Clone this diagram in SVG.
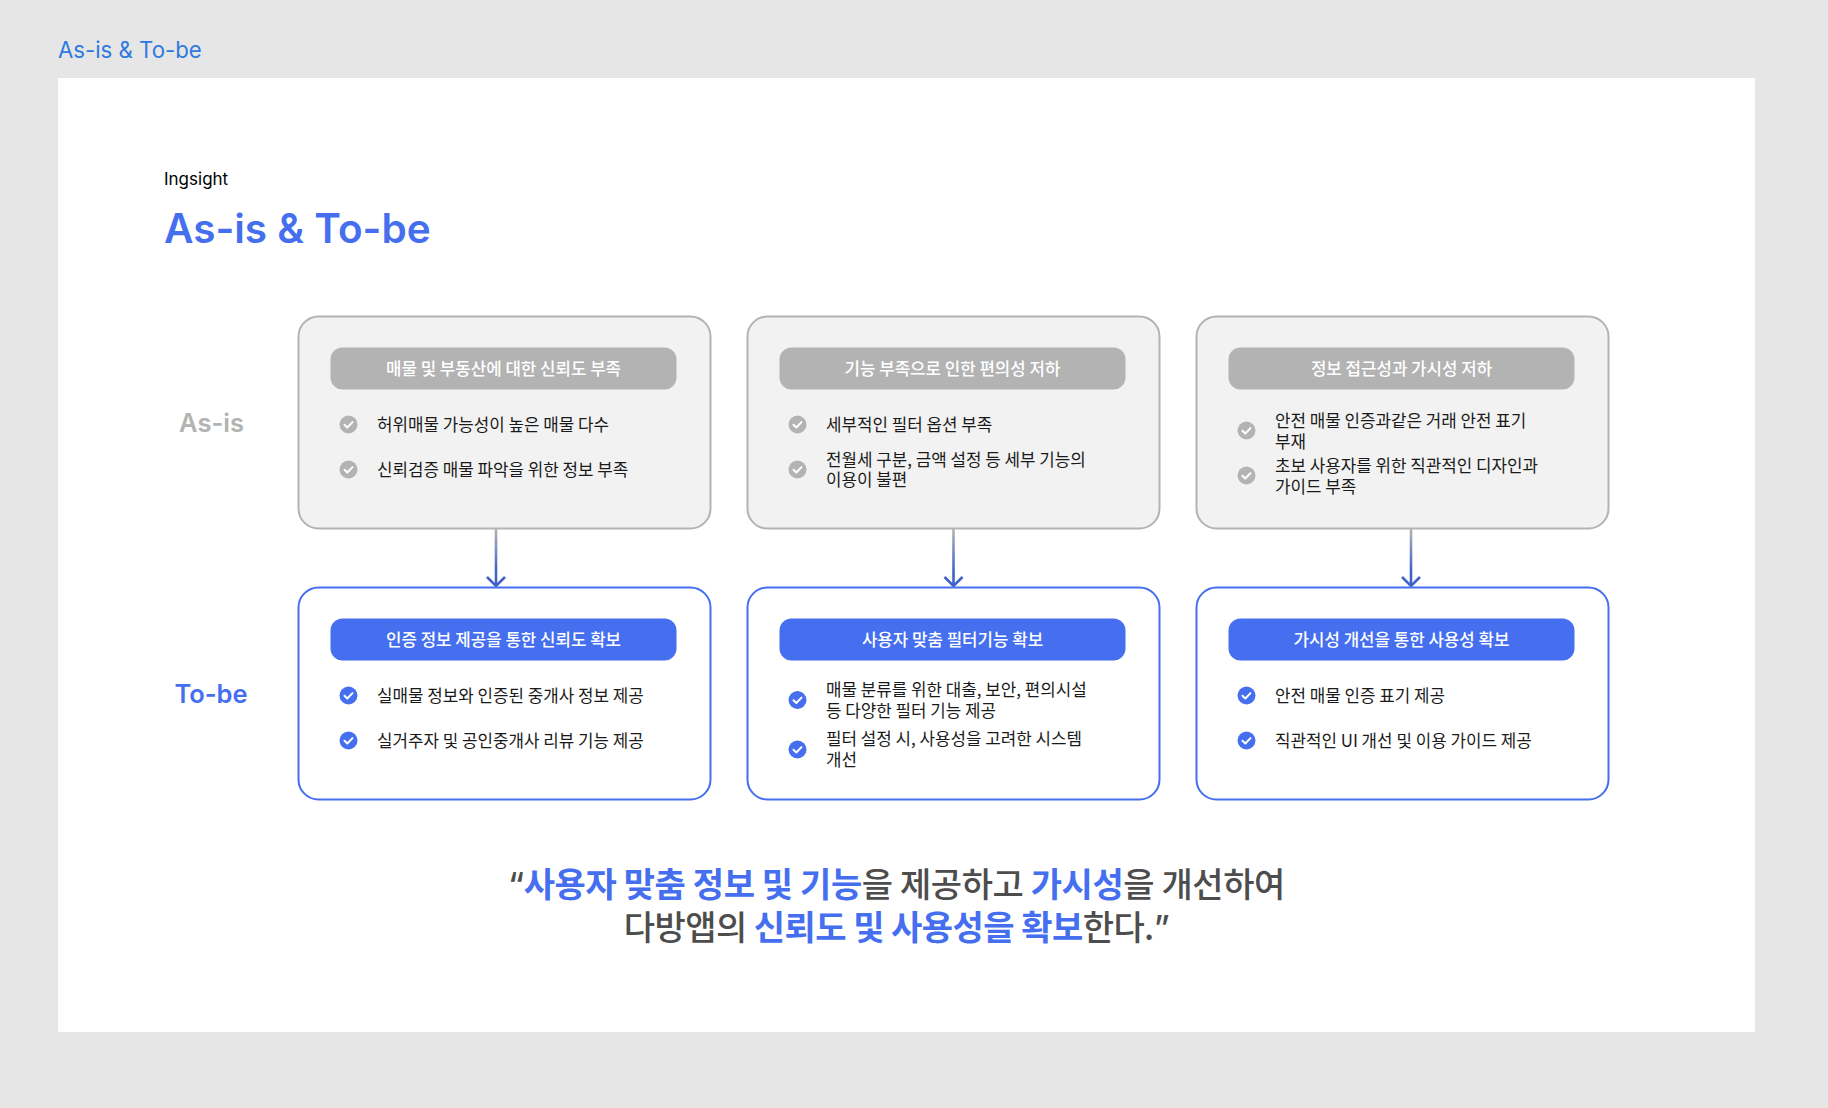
<svg xmlns="http://www.w3.org/2000/svg" xmlns:xlink="http://www.w3.org/1999/xlink" width="1828" height="1108" viewBox="0 0 1828 1108">
<style>
text{font-family:"Noto Sans CJK KR","Noto Sans",sans-serif}
.lat{font-family:Inter,"Noto Sans CJK KR",sans-serif}
.asbox{fill:#f2f2f2;stroke:#b3b3b3;stroke-width:2}
.tobox{fill:#fff;stroke:#456fef;stroke-width:2}
.aspill{fill:#b3b3b3}
.topill{fill:#456fef}
.pt{fill:#fff;font-size:16.8px;font-weight:500;text-anchor:middle}
.it{fill:#1a1a1a;font-size:16.85px;font-weight:400}
.q{font-size:34px;font-weight:500;fill:#4d4d4d;text-anchor:middle;letter-spacing:-.4px}
.q2{letter-spacing:-.55px}
.q .b{fill:#456fef;font-weight:700}
.q .m{font-family:Inter,sans-serif}
.ck{fill:none;stroke:#fff;stroke-width:2;stroke-linecap:round;stroke-linejoin:round}
.cn{fill:none;stroke-width:2.6}
.hd{fill:none;stroke:#3f62c9;stroke-width:2.6}
</style>
<defs>
<linearGradient id="g" gradientUnits="userSpaceOnUse" x1="0" y1="529" x2="0" y2="586"><stop offset="0" stop-color="#b3b3b3"/><stop offset=".75" stop-color="#3f62c9"/></linearGradient>
<g id="ca"><circle r="9" fill="#b3b3b3"/><path class="ck" d="M-4 .3L-1.2 3L4 -2.4"/></g>
<g id="ct"><circle r="9" fill="#456fef"/><path class="ck" d="M-4 .3L-1.2 3L4 -2.4"/></g>
</defs>
<rect width="1828" height="1108" fill="#e6e6e6"/>
<rect x="58" y="78" width="1697" height="954" fill="#fff"/>
<text class="lat" x="58" y="58" font-size="22.200" fill="#2f7ae0">As-is &amp; To-be</text>
<text class="lat" x="164" y="185" font-size="17" fill="#000">Ingsight</text>
<text class="lat" x="164" y="243" font-size="40.500" font-weight="600" fill="#456fef">As-is &amp; To-be</text>
<text class="lat" x="211.500" y="432" font-size="25.500" font-weight="600" fill="#b3b3b3" text-anchor="middle">As-is</text>
<text class="lat" x="211" y="703" font-size="25.500" font-weight="600" fill="#456fef" text-anchor="middle">To-be</text>

<g id="connectors">
<path class="cn" stroke="url(#g)" d="M496 529V586"/><path class="hd" d="M487 577L496 586L505 577"/>
<path class="cn" stroke="url(#g)" d="M953.500 529V586"/><path class="hd" d="M944.500 577L953.500 586L962.500 577"/>
<path class="cn" stroke="url(#g)" d="M1411 529V586"/><path class="hd" d="M1402 577L1411 586L1420 577"/>
</g>

<g id="asis-1">
<rect class="asbox" x="298.500" y="316.500" width="412" height="212" rx="20"/>
<rect class="aspill" x="330.500" y="347.500" width="346" height="42" rx="12"/>
<text class="pt" x="503.500" y="374.500">매물 및 부동산에 대한 신뢰도 부족</text>
<use href="#ca" x="348.500" y="424.500"/><text class="it" x="377" y="430.500">허위매물 가능성이 높은 매물 다수</text>
<use href="#ca" x="348.500" y="469.500"/><text class="it" x="377" y="475.500">신뢰검증 매물 파악을 위한 정보 부족</text>
</g>
<g id="asis-2">
<rect class="asbox" x="747.500" y="316.500" width="412" height="212" rx="20"/>
<rect class="aspill" x="779.500" y="347.500" width="346" height="42" rx="12"/>
<text class="pt" x="952.500" y="374.500">기능 부족으로 인한 편의성 저하</text>
<use href="#ca" x="797.500" y="424.500"/><text class="it" x="826" y="430.500">세부적인 필터 옵션 부족</text>
<use href="#ca" x="797.500" y="469.500"/><text class="it" x="826" y="465.500">전월세 구분, 금액 설정 등 세부 기능의</text><text class="it" x="826" y="485.500">이용이 불편</text>
</g>
<g id="asis-3">
<rect class="asbox" x="1196.500" y="316.500" width="412" height="212" rx="20"/>
<rect class="aspill" x="1228.500" y="347.500" width="346" height="42" rx="12"/>
<text class="pt" x="1401.500" y="374.500">정보 접근성과 가시성 저하</text>
<use href="#ca" x="1246.500" y="430.500"/><text class="it" x="1275" y="426.500">안전 매물 인증과같은 거래 안전 표기</text><text class="it" x="1275" y="447.500">부재</text>
<use href="#ca" x="1246.500" y="475.500"/><text class="it" x="1275" y="471.500">초보 사용자를 위한 직관적인 디자인과</text><text class="it" x="1275" y="492.500">가이드 부족</text>
</g>
<g id="tobe-1">
<rect class="tobox" x="298.500" y="587.500" width="412" height="212" rx="20"/>
<rect class="topill" x="330.500" y="618.500" width="346" height="42" rx="12"/>
<text class="pt" x="503.500" y="645.500">인증 정보 제공을 통한 신뢰도 확보</text>
<use href="#ct" x="348.500" y="695.500"/><text class="it" x="377" y="701.500">실매물 정보와 인증된 중개사 정보 제공</text>
<use href="#ct" x="348.500" y="740.500"/><text class="it" x="377" y="746.500">실거주자 및 공인중개사 리뷰 기능 제공</text>
</g>
<g id="tobe-2">
<rect class="tobox" x="747.500" y="587.500" width="412" height="212" rx="20"/>
<rect class="topill" x="779.500" y="618.500" width="346" height="42" rx="12"/>
<text class="pt" x="952.500" y="645.500">사용자 맞춤 필터기능 확보</text>
<use href="#ct" x="797.500" y="700"/><text class="it" x="826" y="695.500">매물 분류를 위한 대출, 보안, 편의시설</text><text class="it" x="826" y="716.500">등 다양한 필터 기능 제공</text>
<use href="#ct" x="797.500" y="749.500"/><text class="it" x="826" y="744.500">필터 설정 시, 사용성을 고려한 시스템</text><text class="it" x="826" y="765.500">개선</text>
</g>
<g id="tobe-3">
<rect class="tobox" x="1196.500" y="587.500" width="412" height="212" rx="20"/>
<rect class="topill" x="1228.500" y="618.500" width="346" height="42" rx="12"/>
<text class="pt" x="1401.500" y="645.500">가시성 개선을 통한 사용성 확보</text>
<use href="#ct" x="1246.500" y="695.500"/><text class="it" x="1275" y="701.500">안전 매물 인증 표기 제공</text>
<use href="#ct" x="1246.500" y="740.500"/><text class="it" x="1275" y="746.500">직관적인 UI 개선 및 이용 가이드 제공</text>
</g>
<text class="q" x="896.500" y="897"><tspan class="m">“</tspan><tspan class="b">사용자 맞춤 정보 및 기능</tspan>을 제공하고 <tspan class="b">가시성</tspan>을 개선하여</text>
<text class="q q2" x="896.500" y="940">다방앱의 <tspan class="b">신뢰도 및 사용성을 확보</tspan>한다.<tspan class="m">”</tspan></text>
</svg>
